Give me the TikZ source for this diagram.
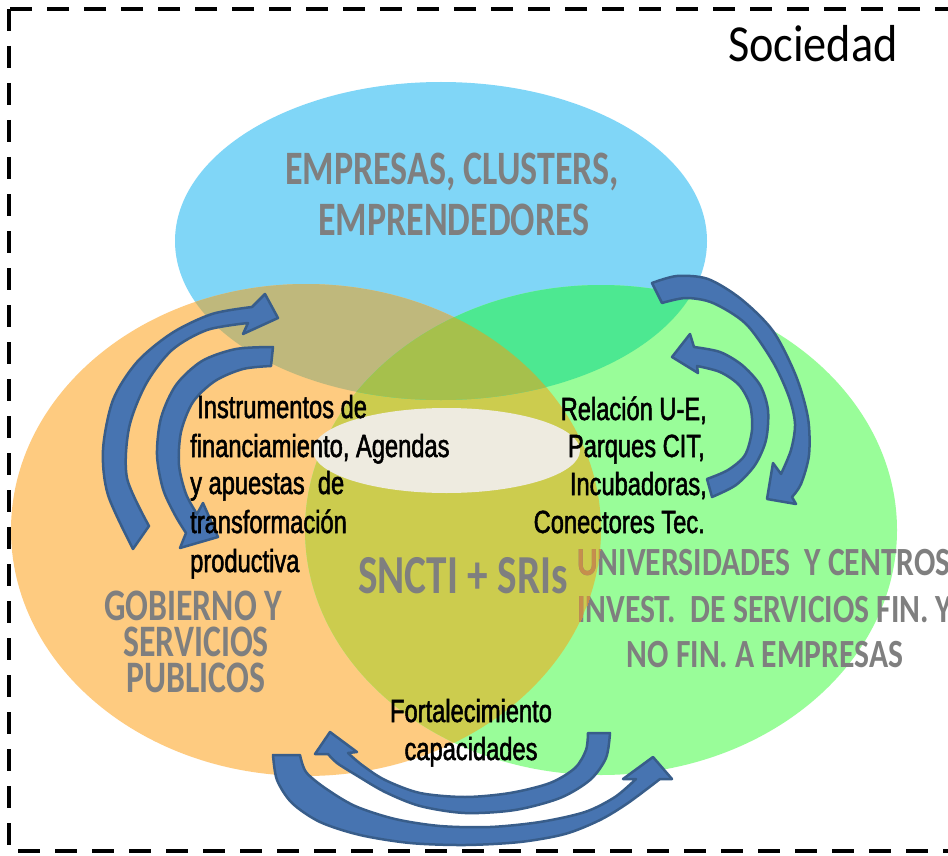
\documentclass[tikz,border=0pt]{standalone}
\usepackage{fontspec}
\newfontfamily\grayfont{Carlito}[FakeStretch=0.75]
\newfontfamily\univfont{Carlito}[FakeStretch=0.79]
\newfontfamily\socfont{Carlito}[FakeStretch=0.89]
\newfontfamily\labfont{Liberation Sans}[FakeStretch=0.74,FakeBold=1.6]
\definecolor{blueE}{HTML}{80D6F7}
\definecolor{orangeE}{HTML}{FECB80}
\definecolor{greenE}{HTML}{99FD99}
\definecolor{boC}{HTML}{BFB87C}
\definecolor{bgC}{HTML}{4DE891}
\definecolor{lensC}{HTML}{CCCC4E}
\definecolor{bogC}{HTML}{A6C04C}
\definecolor{creamC}{HTML}{EEEBE0}
\definecolor{txtgray}{HTML}{7F7F7F}
\definecolor{txtbrown}{HTML}{C68E4C}
\definecolor{arrfill}{HTML}{4774B1}
\definecolor{arredge}{HTML}{385D8A}
\tikzset{
  graytxt/.style={font={\grayfont\bfseries\fontsize{#1}{#1}\selectfont},text=txtgray,inner sep=0pt},
  univtxt/.style={font={\univfont\bfseries\fontsize{40}{40}\selectfont},text=txtgray,inner sep=0pt},
  labtxt/.style={font={\labfont\fontsize{32}{32}\selectfont},text=black,inner sep=0pt},
  arrowsty/.style={fill=arrfill,draw=arredge,line width=2.5pt,line join=round},
}
\begin{document}
\begin{tikzpicture}[x=1pt,y=-1pt]
\useasboundingbox (0,0) rectangle (948,856);
\clip (0,0) rectangle (948,856);
\fill[white] (0,0) rectangle (948,856);
% ellipses
\fill[blueE] (441,241) ellipse [x radius=266pt,y radius=159pt];
\fill[orangeE] (306,530) ellipse [x radius=295pt,y radius=246pt];
\fill[greenE] (601,530) ellipse [x radius=296pt,y radius=245pt];
\begin{scope}
  \clip (306,530) ellipse [x radius=295pt,y radius=246pt];
  \fill[lensC] (601,530) ellipse [x radius=296pt,y radius=245pt];
\end{scope}
\begin{scope}
  \clip (441,241) ellipse [x radius=266pt,y radius=159pt];
  \fill[boC] (306,530) ellipse [x radius=295pt,y radius=246pt];
  \fill[bgC] (601,530) ellipse [x radius=296pt,y radius=245pt];
  \clip (306,530) ellipse [x radius=295pt,y radius=246pt];
  \fill[bogC] (601,530) ellipse [x radius=296pt,y radius=245pt];
\end{scope}
\fill[creamC] (446.5,450.5) ellipse [x radius=133.5pt,y radius=42.5pt];
% university text (partly under the orange set)
\node[univtxt,anchor=base west] (u1) at (577,575) {UNIVERSIDADES\ \ Y CENTROS};
\node[univtxt,anchor=base west] (u2) at (577,622) {INVEST.\ \ DE SERVICIOS FIN. Y};
\node[univtxt,anchor=base] (u3) at (765,667) {NO FIN. A EMPRESAS};
\begin{scope}
  \clip (306,530) ellipse [x radius=295pt,y radius=246pt];
  \node[univtxt,text=txtbrown,anchor=base west] (u1b) at (577,575) {UNIVERSIDADES\ \ Y CENTROS};
  \node[univtxt,text=txtbrown,anchor=base west] (u2b) at (577,622) {INVEST.\ \ DE SERVICIOS FIN. Y};
\end{scope}
% arrows left
\path[arrowsty] plot[smooth] coordinates {(133,549) (108,495) (103,450) (113,400) (137,362) (172,333) (212,314) (252,307)}
  -- (265,294) -- (278,318) -- (243,334)
  -- plot[smooth] coordinates {(248,323) (207,330) (172,350) (146,384) (129,428) (127,478) (149,526)} -- cycle;
\path[arrowsty] plot[smooth] coordinates {(273,347) (236,349) (202,361) (176,385) (161,418) (157,455) (163,489) (175,515) (186,533)}
  -- (180,548) -- (218,537) -- (203,503)
  -- plot[smooth] coordinates {(197,514) (186,494) (179,465) (181,432) (193,402) (215,381) (243,369) (271,366)} -- cycle;
% arrows right
\path[arrowsty] plot[smooth] coordinates {(652,283) (677,276) (708,279) (741,299) (773,331) (796,376) (808,418) (809,455) (801,484) (792,497)}
  -- (796,504) -- (767,499) -- (773,463)
  -- plot[smooth] coordinates {(781,474) (791,450) (795,424) (789,397) (773,362) (746,324) (713,303) (686,298) (662,303)} -- cycle;
\path[arrowsty] plot[smooth] coordinates {(712,497) (736,485) (755,465) (766,440) (768,410) (760,385) (742,365) (720,352) (694,347)}
  -- (690,334) -- (672,357) -- (698,373)
  -- plot[smooth] coordinates {(697,366) (720,372) (739,385) (750,405) (752,430) (745,455) (728,470) (707,479)} -- cycle;
% arrows bottom
\path[arrowsty] plot[smooth] coordinates {(610,733) (606,758) (590,780) (560,798) (515,810) (465,813) (420,806) (385,792) (356,775) (337,763) (328,754)}
  -- (315,754) -- (330,732) -- (357,752)
  -- plot[smooth] coordinates {(348,753) (362,765) (385,780) (420,793) (465,797) (510,793) (550,783) (575,768) (586,750) (588,733)} -- cycle;
\path[arrowsty] plot[smooth] coordinates {(273,755) (277,780) (292,803) (320,822) (360,835) (410,843) (465,845) (520,842) (565,834) (600,820) (628,803) (660,779)}
  -- (672,779) -- (653,757) -- (623,779)
  -- plot[smooth] coordinates {(636,779) (615,797) (585,812) (540,822) (490,827) (440,826) (395,819) (355,806) (325,788) (306,772) (300,755)} -- cycle;
% gray titles
\node[graytxt=48,anchor=base] (e1) at (452,185) {EMPRESAS, CLUSTERS,};
\node[graytxt=48,anchor=base] (e2) at (454,235) {EMPRENDEDORES};
\node[graytxt=45,anchor=base] (g1) at (193,620) {GOBIERNO Y};
\node[graytxt=45,anchor=base] (g2) at (196,656) {SERVICIOS};
\node[graytxt=45,anchor=base] (g3) at (196,692) {PUBLICOS};
\node[graytxt=55,anchor=base] (s1) at (463,593) {SNCTI + SRIs};
% black labels
\node[labtxt,anchor=base west] (i1) at (197,418) {Instrumentos de};
\node[labtxt,anchor=base west] (i2) at (190,457) {financiamiento, Agendas};
\node[labtxt,anchor=base west] (i3) at (190,494) {y apuestas\ \ de};
\node[labtxt,anchor=base west] (i4) at (190,533) {transformación};
\node[labtxt,anchor=base west] (i5) at (190,572) {productiva};
\node[labtxt,anchor=base east] (r1) at (707,420) {Relación U-E,};
\node[labtxt,anchor=base east] (r2) at (705,457) {Parques CIT,};
\node[labtxt,anchor=base east] (r3) at (707,495) {Incubadoras,};
\node[labtxt,anchor=base east] (r4) at (705,533) {Conectores Tec.};
\node[labtxt,anchor=base] (f1) at (471,722) {Fortalecimiento};
\node[labtxt,anchor=base] (f2) at (471,760) {capacidades};
% society
\node[font={\socfont\fontsize{52}{52}\selectfont},inner sep=0pt,anchor=base east] (soc) at (898,62) {Sociedad};
% border
\draw[line width=4pt,dash pattern=on 22pt off 15pt] (9,9) rectangle (1010,851);
\end{tikzpicture}
\end{document}
